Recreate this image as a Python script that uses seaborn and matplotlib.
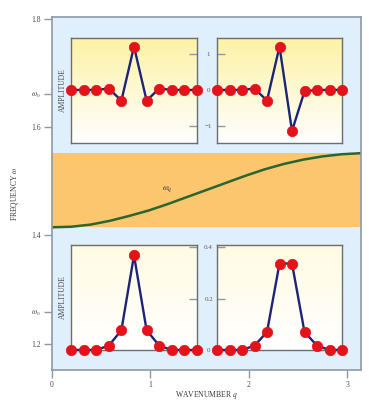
import numpy as np
import pandas as pd
import matplotlib
matplotlib.use("Agg")
import matplotlib.pyplot as plt
from matplotlib.colors import LinearSegmentedColormap
import seaborn as sns

# ---------------- data ----------------
# dispersion curve omega(q)
q_vals = [0.000, 0.196, 0.393, 0.589, 0.785, 0.982, 1.178, 1.374, 1.571,
          1.767, 1.963, 2.160, 2.356, 2.553, 2.749, 2.945, 3.142]
omega_vals = [1.415, 1.416, 1.420, 1.427, 1.436, 1.446, 1.458, 1.471, 1.484,
              1.497, 1.510, 1.522, 1.532, 1.540, 1.546, 1.550, 1.552]

site_idx = list(range(11))
amp_upper_left = [0, 0, 0, 0.04, -0.30, 1.22, -0.30, 0.04, 0, 0, 0]
amp_upper_right = [0, 0, 0, 0.04, -0.30, 1.22, -1.15, -0.04, 0, 0, 0]
amp_lower_left = [0, 0, 0, 0.017, 0.077, 0.368, 0.077, 0.017, 0, 0, 0]
amp_lower_right = [0, 0, 0, 0.017, 0.070, 0.336, 0.336, 0.070, 0.017, 0, 0]

main_yticks = [1.2, 1.2586, 1.4, 1.6, 1.661, 1.8]
main_yticklabels = ["1.2", r"$\omega_0$", "1.4", "1.6", r"$\omega_0$", "1.8"]
main_xticks = [0, 1, 2, 3]
upper_inset_ticks = [1, 0, -1]
upper_inset_labels = ["1", "0", "\u22121"]
lower_inset_ticks = [0.4, 0.2, 0]
lower_inset_labels = ["0.4", "0.2", "0"]

# ---------------- style ----------------
sns.set_theme(style="ticks")
plt.rcParams["font.family"] = ["Liberation Serif", "DejaVu Serif"]
plt.rcParams["mathtext.fontset"] = "stix"

BLUE_BG = "#dfeffb"
ORANGE = "#fcc66f"
GREEN = "#2b6530"
NAVY = "#1c2378"
RED = "#e3121b"
GRAY = "#8e9aa5"
DARK = "#6d6d6d"
TXT = "#4a4a4a"

fig = plt.figure(figsize=(3.69, 4.03), dpi=100)
ax = fig.add_axes([52 / 369, 33 / 403, 309 / 369, 353 / 403])
ax.set_facecolor(BLUE_BG)
ax.set_xlim(0, np.pi)
ax.set_ylim(1.1512, 1.8037)

ax.axhspan(min(omega_vals), max(omega_vals), color=ORANGE, lw=0, zorder=0.5)
sns.lineplot(x=q_vals, y=omega_vals, ax=ax, color=GREEN, lw=1.8, zorder=2)
ax.text(1.17, 1.486, r"$\omega_q$", fontsize=6, color="#333333",
        ha="center", va="center")

ax.set_xticks(main_xticks)
ax.set_xticklabels([str(t) for t in main_xticks])
ax.set_yticks(main_yticks)
ax.set_yticklabels(main_yticklabels)
ax.tick_params(axis="both", direction="out", length=6, width=1, color=GRAY,
               labelsize=5.5, labelcolor=TXT, pad=2,
               left=True, bottom=True, right=False, top=False)
for sp in ax.spines.values():
    sp.set_visible(True)
    sp.set_color(GRAY)
    sp.set_linewidth(1.2)
ax.set_xlabel("WAVENUMBER $q$", fontsize=5.5, color="#3a3a3a", labelpad=0)
ax.set_ylabel("FREQUENCY $\\omega$", fontsize=5.5, color="#3a3a3a", labelpad=8)

# ---------------- insets ----------------
upper_cmap = LinearSegmentedColormap.from_list("u", ["#ffffff", "#fdf2a6"])
lower_cmap = LinearSegmentedColormap.from_list("l", ["#ffffff", "#fffbe2"])
grad = np.linspace(0, 1, 256).reshape(-1, 1)

def make_inset(rect, vals, ylim, cmap):
    a = fig.add_axes(rect)
    a.set_xlim(0, 10)
    a.set_ylim(*ylim)
    a.imshow(grad, aspect="auto", cmap=cmap, origin="lower",
             extent=[0, 1, 0, 1], transform=a.transAxes, zorder=0)
    sns.lineplot(x=site_idx, y=vals, ax=a, color=NAVY, lw=1.7, marker="o",
                 markersize=7.5, markerfacecolor=RED, markeredgecolor=RED,
                 markeredgewidth=0.5, clip_on=False, zorder=3)
    for sp in a.spines.values():
        sp.set_visible(True)
        sp.set_color(DARK)
        sp.set_linewidth(1.0)
    a.set_xticks([])
    a.set_xlabel("")
    a.set_ylabel("")
    return a

up_ylim = (-1.49, 1.46)
lo_ylim = (0, 0.408)
ul = make_inset([71 / 369, 260 / 403, 126 / 369, 105 / 403],
                amp_upper_left, up_ylim, upper_cmap)
ur = make_inset([217 / 369, 260 / 403, 125 / 369, 105 / 403],
                amp_upper_right, up_ylim, upper_cmap)
ll = make_inset([71 / 369, 53 / 403, 126 / 369, 105 / 403],
                amp_lower_left, lo_ylim, lower_cmap)
lr = make_inset([217 / 369, 53 / 403, 125 / 369, 105 / 403],
                amp_lower_right, lo_ylim, lower_cmap)

for a, ticks in ((ul, upper_inset_ticks), (ll, lower_inset_ticks)):
    a.set_yticks(ticks)
    a.set_yticklabels([])
    a.tick_params(axis="y", direction="in", length=6, width=1, color=GRAY,
                  left=False, right=True, labelleft=False, labelright=False)
    a.set_ylabel("AMPLITUDE", fontsize=5.5, color=TXT, labelpad=3)
    a.yaxis.set_label_position("left")

for a, ticks, labels in ((ur, upper_inset_ticks, upper_inset_labels),
                         (lr, lower_inset_ticks, lower_inset_labels)):
    a.set_yticks(ticks)
    a.set_yticklabels(labels)
    a.tick_params(axis="y", direction="in", length=6, width=1, color=GRAY,
                  left=True, right=False, labelsize=5, labelcolor="#5e5e5e",
                  pad=6)
    for lab in a.get_yticklabels():
        lab.set_horizontalalignment("center")

fig.savefig("out.png", dpi=100, facecolor="white")
